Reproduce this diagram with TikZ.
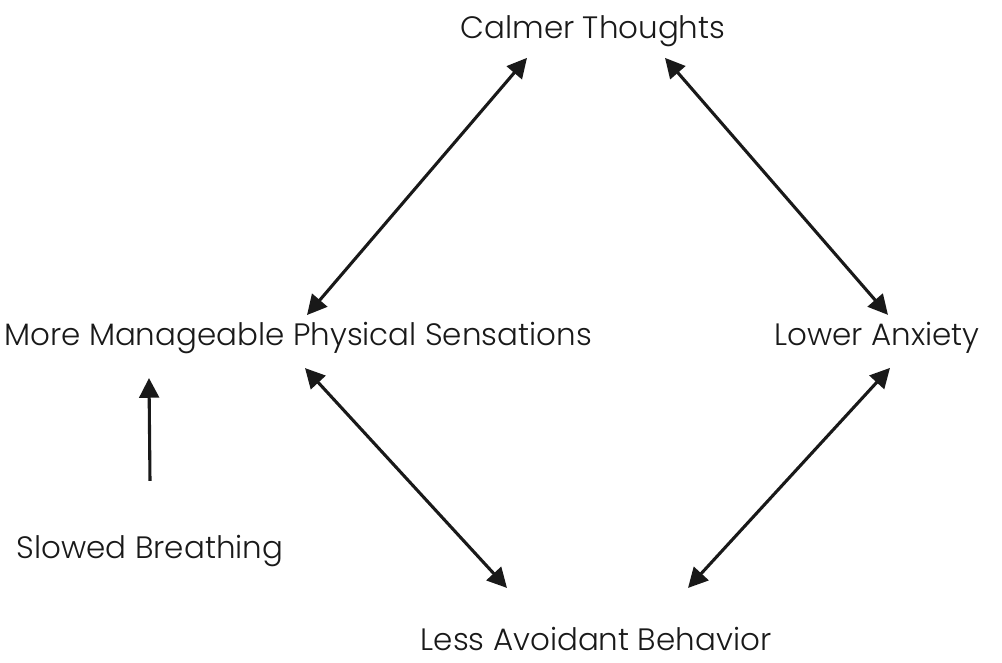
\documentclass[tikz,border=0pt]{standalone}
\usepackage{fontspec}
\setmainfont{Poppins}[UprightFont=* Light]
\usetikzlibrary{arrows.meta}
\begin{document}
\begin{tikzpicture}[x=0.025cm,y=-0.025cm,inner sep=0pt,
        lbl/.style={font=\fontsize{22}{26}\selectfont,text=black!90},
        link/.style={line width=2.2pt,black!90,{Triangle[length=14pt,width=14pt]}-{Triangle[length=14pt,width=14pt]}},
        push/.style={line width=2.2pt,black!90,-{Triangle[length=14pt,width=14pt]}}]
        \useasboundingbox (0,0) rectangle (1002,663);
        \node[lbl] (calm) at (593,31) {Calmer Thoughts};
        \node[lbl] (sens) at (298,338) {More Manageable Physical Sensations};
        \node[lbl] (anx) at (877,338) {Lower Anxiety};
        \node[lbl] (breath) at (150,551) {Slowed Breathing};
        \node[lbl] (avoid) at (596,639) {Less Avoidant Behavior};
        \draw[link] ([xshift=-66*0.025cm,yshift=-11*0.025cm]calm.south) -- ([xshift=9*0.025cm,yshift=39*0.025cm]sens.south);
        \draw[link] ([xshift=72*0.025cm,yshift=-11*0.025cm]calm.south) -- ([xshift=11*0.025cm,yshift=39*0.025cm]anx.south);
        \draw[link] ([xshift=7*0.025cm,yshift=-14*0.025cm]sens.south) -- ([xshift=-89*0.025cm,yshift=39*0.025cm]avoid.north);
        \draw[link] ([xshift=13*0.025cm,yshift=-14*0.025cm]anx.south) -- ([xshift=92*0.025cm,yshift=39*0.025cm]avoid.north);
        \draw[push] ([yshift=54*0.025cm]breath.north) -- ([xshift=-149*0.025cm,yshift=-24*0.025cm]sens.south);
\end{tikzpicture}
\end{document}
